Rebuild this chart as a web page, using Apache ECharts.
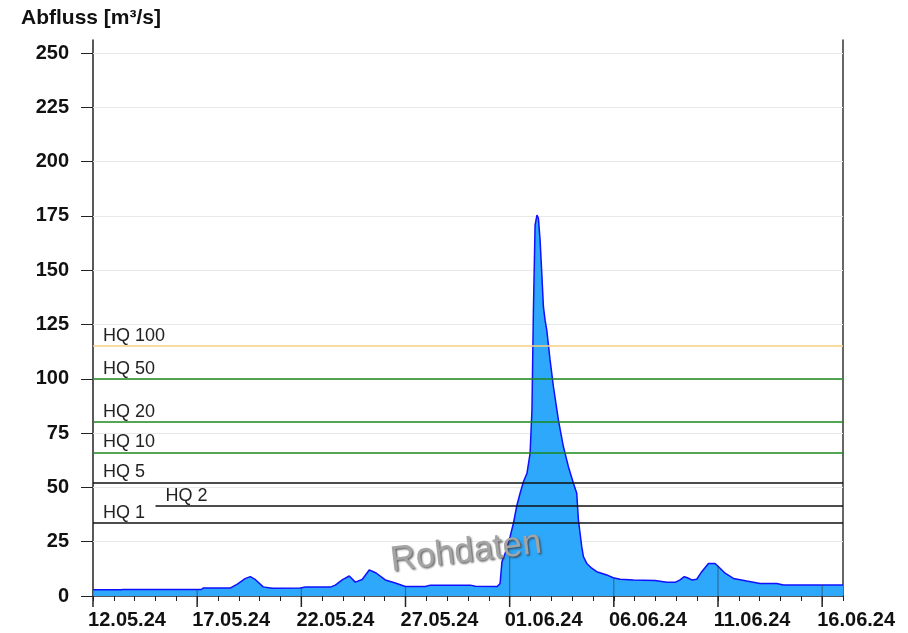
<!DOCTYPE html>
<html>
<head>
<meta charset="utf-8">
<title>Abfluss</title>
<script src="https://cdn.jsdelivr.net/npm/echarts@6.0.0/dist/echarts.min.js"></script>
<style>
  html, body { margin: 0; padding: 0; background: #fff; }
  #chart { width: 908px; height: 633px; }
</style>
</head>
<body>
<div id="chart"></div>
<script>
// x = Tage ab 12.05.24 00:00
const days = [0, 0.55, 0.62, 0.7, 1.35, 1.39, 1.45, 4.35, 4.43, 4.5, 5.2, 5.3, 6.6, 6.93, 7.3, 7.55, 7.8, 8.17, 8.6, 9.95,
  10.2, 11.39, 11.63, 11.96, 12.3, 12.59, 12.92, 13.26, 13.59, 14.03, 14.51, 14.99, 15.95, 16.19, 18.11, 18.35, 19.4, 19.54,
  19.63, 19.78, 20.02, 20.18, 20.35, 20.5, 20.66, 20.83, 20.98, 21.07, 21.14, 21.22, 21.31, 21.38, 21.46, 21.55, 21.62, 21.7,
  21.78, 21.94, 22.1, 22.34, 22.58, 22.82, 23.06, 23.22, 23.3, 23.38, 23.46, 23.54, 23.7, 23.94, 24.18, 24.66, 24.97, 25.3,
  25.94, 26.98, 27.54, 27.94, 28.18, 28.38, 28.53, 28.74, 28.98, 29.22, 29.54, 29.86, 30.1, 30.34, 30.74, 31.38, 32.02, 32.82,
  33.14, 36];
// Abfluss in m³/s
const flow = [2.9, 2.9, 3.6, 2.9, 2.9, 3.6, 3.0, 3.0, 3.5, 3.0, 3.0, 3.7, 3.7, 5.5, 8.0, 8.9, 7.5, 4.2, 3.6, 3.7,
  4.1, 4.1, 5.0, 7.4, 9.2, 6.4, 7.6, 12.0, 10.6, 7.4, 6.0, 4.4, 4.4, 5.0, 5.0, 4.5, 4.4, 5.8,
  15.8, 19.6, 27.3, 33.5, 41.9, 47.3, 52.6, 56.5, 65.7, 85.6, 131.7, 170.8, 175.4, 173.9, 163.9, 147, 133.2, 127,
  122.5, 108.7, 96.4, 81, 68.7, 59.5, 51.9, 47.3, 35, 28.9, 22.7, 18.1, 15, 12.8, 11.2, 9.7, 8.4, 7.7,
  7.4, 7.1, 6.3, 6.3, 7.4, 8.9, 8.4, 7.4, 7.7, 11.2, 15, 15, 12.8, 10.5, 8.1, 6.9, 5.8, 5.8,
  5.1, 5.1];

// Achsenbeschriftung
const tickLabels = ['12.05.24', '17.05.24', '22.05.24', '27.05.24', '01.06.24', '06.06.24', '11.06.24', '16.06.24'];
const yTicks = [0, 25, 50, 75, 100, 125, 150, 175, 200, 225, 250];

// Hauptstriche (alle 5 Tage) mit Höhe bis zur Ganglinie
const stemDays = [0, 5, 10, 15, 20, 25, 30, 35];
const stemTops = [2.9, 3.0, 3.8, 4.1, 18, 8.5, 14, 5.1];

// Hochwasser-Kennwerte
const hqNames = ['HQ 1', 'HQ 2', 'HQ 5', 'HQ 10', 'HQ 20', 'HQ 50', 'HQ 100'];
const hqValues = [33.5, 41.5, 52.3, 66.1, 80.2, 100, 115.2];
const hqFrom = [0, 3, 0, 0, 0, 0, 0];

// Farben
const hqColors = ['#111', '#111', '#111', '#1b881b', '#1b881b', '#1b881b', '#f6cf80'];
const FONT = '"Liberation Sans", Arial, sans-serif';

const chart = echarts.init(document.getElementById('chart'));

const flowData = days.map((d, i) => [d, flow[i]]);
const stemData = stemDays.map((d, i) => [d, stemTops[i]]);

const option = {
  animation: false,
  title: {
    text: 'Abfluss [m³/s]',
    left: 21,
    top: 8,
    padding: 0,
    textStyle: { fontFamily: FONT, fontSize: 21, fontWeight: 'bold', color: '#111' }
  },
  grid: { left: 93, right: 65, top: 40, bottom: 37, outerBoundsMode: 'none' },
  xAxis: {
    type: 'value',
    min: 0,
    max: 36,
    interval: 1,
    axisLine: { lineStyle: { color: '#222', width: 1.5 } },
    axisTick: { length: 5, lineStyle: { color: '#222', width: 1 } },
    splitLine: { show: false },
    axisLabel: {
      margin: 14,
      align: 'center',
      padding: [0, 0, 0, 68],
      fontFamily: FONT,
      fontSize: 20,
      fontWeight: 'bold',
      color: '#111',
      formatter: (v) => (v % 5 === 0 ? (tickLabels[v / 5] || '') : '')
    }
  },
  yAxis: [
    {
      type: 'value',
      min: 0,
      max: 256,
      interval: 25,
      axisLine: { show: true, lineStyle: { color: '#222', width: 1.5 } },
      axisTick: { show: true, length: 12, customValues: yTicks, lineStyle: { color: '#222' } },
      splitLine: { show: false },
      axisLabel: {
        customValues: yTicks,
        margin: 24,
        fontFamily: FONT,
        fontSize: 20,
        fontWeight: 'bold',
        color: '#111'
      }
    },
    {
      type: 'value',
      position: 'right',
      min: 0,
      max: 256,
      axisLine: { show: true, lineStyle: { color: '#333', width: 1.5 } },
      axisTick: { show: false },
      axisLabel: { show: false },
      splitLine: { show: false }
    }
  ],
  graphic: [
    {
      type: 'text',
      x: 466,
      y: 552,
      rotation: 0.12,
      z: 100,
      style: {
        text: 'Rohdaten',
        font: '35px ' + FONT,
        fill: '#a4a4a4',
        align: 'center',
        verticalAlign: 'middle',
        textShadowColor: 'rgba(60,60,60,0.8)',
        textShadowBlur: 2,
        textShadowOffsetX: 1.5,
        textShadowOffsetY: 1.5
      }
    }
  ],
  series: [
    // Gitterlinien unter der Fläche
    {
      type: 'line',
      data: [],
      silent: true,
      markLine: {
        z: 1,
        silent: true,
        symbol: ['none', 'none'],
        label: { show: false },
        lineStyle: { color: '#e8e8e8', width: 1, type: 'solid' },
        data: yTicks.filter((v) => v > 0).map((v) => ({ yAxis: v }))
      }
    },
    {
      name: 'Abfluss',
      type: 'line',
      data: flowData,
      showSymbol: false,
      z: 2,
      lineStyle: { color: '#1010ff', width: 1.5 },
      areaStyle: { color: '#2ea8fb', opacity: 1 },
      markLine: {
        silent: true,
        symbol: ['none', 'none'],
        data: hqNames.map((n, i) => [
          {
            name: n,
            coord: [hqFrom[i], hqValues[i]],
            lineStyle: { color: hqColors[i], width: 1.5, type: 'solid' },
            label: {
              show: true,
              position: 'insideStartTop',
              distance: [10, 1],
              formatter: '{b}',
              fontFamily: FONT,
              fontSize: 18,
              color: '#222'
            }
          },
          { coord: [36, hqValues[i]] }
        ])
      }
    },
    // Hauptstriche alle 5 Tage
    {
      type: 'custom',
      z: 4,
      silent: true,
      data: stemData,
      renderItem: (params, api) => {
        const base = api.coord([api.value(0), 0]);
        const top = api.coord([api.value(0), api.value(1)]);
        return {
          type: 'group',
          children: [
            { type: 'line', shape: { x1: base[0], y1: base[1], x2: base[0], y2: base[1] + 11 }, style: { stroke: '#222', lineWidth: 1.5 } },
            { type: 'line', shape: { x1: top[0], y1: base[1], x2: top[0], y2: top[1] }, style: { stroke: 'rgba(40,60,80,0.55)', lineWidth: 1.2 } }
          ]
        };
      }
    }
  ]
};

chart.setOption(option);
window.addEventListener('resize', () => chart.resize());
</script>
</body>
</html>
